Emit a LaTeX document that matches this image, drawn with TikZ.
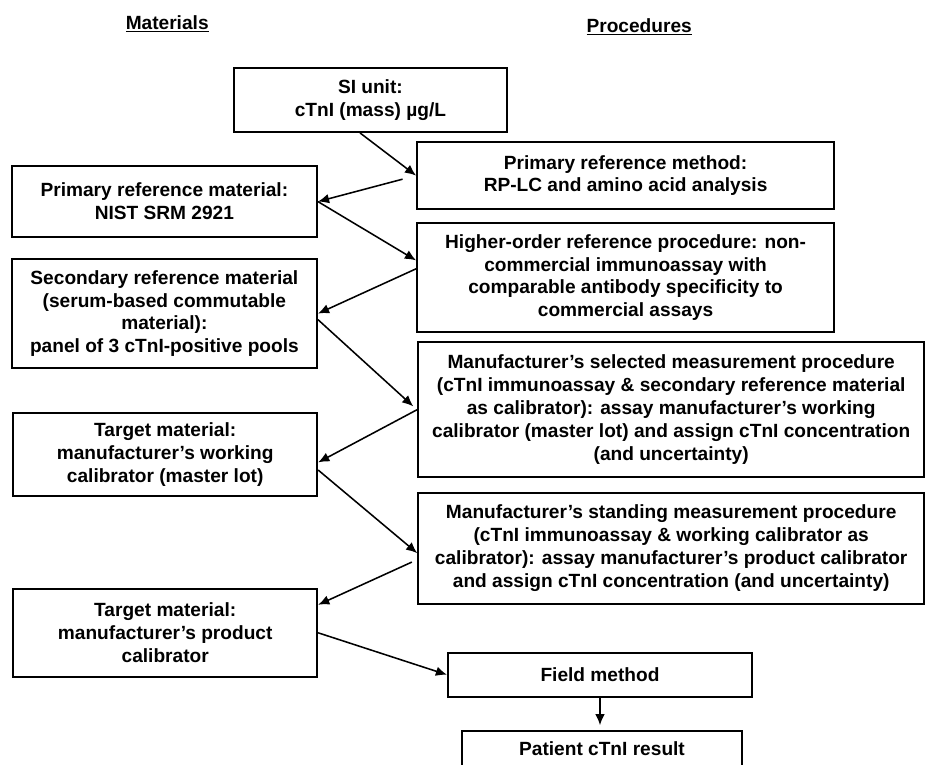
\documentclass[tikz,border=0pt]{standalone}
\usepackage{fontspec}
\setmainfont{Liberation Sans}
\usetikzlibrary{arrows.meta}

\begin{document}
\begin{tikzpicture}[
    box/.style={draw, line width=1.3pt, align=center, inner sep=2pt,
        font=\fontsize{13.6}{16.3}\selectfont\bfseries},
    arr/.style={line width=1.1pt, -{Latex[length=2.8mm,width=2.4mm]}},
    head/.style={font=\fontsize{13.6}{16}\selectfont\bfseries}
]
        \useasboundingbox (0,0) rectangle (23.15,19.1);
        \node[head] (mat) at (4.18,18.5) {\underline{Materials}};
        \node[head] (proc) at (15.98,18.43) {\underline{Procedures}};

        \node[box, minimum width=6.83cm, minimum height=1.6cm] (si) at (9.26,16.6)
            {SI unit:\\cTnI (mass) µg/L};
        \node[box, minimum width=10.43cm, minimum height=1.68cm] (prmeth) at (15.64,14.71)
            {Primary reference method:\\RP-LC and amino acid analysis};
        \node[box, minimum width=7.63cm, minimum height=1.78cm] (prmat) at (4.11,14.06)
            {Primary reference material:\\NIST SRM 2921};
        \node[box, minimum width=10.43cm, minimum height=2.73cm] (hiord) at (15.64,12.16)
            {Higher-order reference procedure: non-\\commercial immunoassay with\\comparable antibody specificity to\\commercial assays};
        \node[box, minimum width=7.63cm, minimum height=2.73cm] (secmat) at (4.11,11.26)
            {Secondary reference material\\(serum-based commutable\\material):\\panel of 3 cTnI-positive pools};
        \node[box, minimum width=12.65cm, minimum height=3.38cm] (selproc) at (16.78,8.86)
            {Manufacturer’s selected measurement procedure\\(cTnI immunoassay \& secondary reference material\\as calibrator): assay manufacturer’s working\\calibrator (master lot) and assign cTnI concentration\\(and uncertainty)};
        \node[box, minimum width=7.6cm, minimum height=2.08cm] (workcal) at (4.13,7.74)
            {Target material:\\manufacturer’s working\\calibrator (master lot)};
        \node[box, minimum width=12.65cm, minimum height=2.78cm] (stdproc) at (16.78,5.39)
            {Manufacturer’s standing measurement procedure\\(cTnI immunoassay \& working calibrator as\\calibrator): assay manufacturer’s product calibrator\\and assign cTnI concentration (and uncertainty)};
        \node[box, minimum width=7.6cm, minimum height=2.2cm] (prodcal) at (4.13,3.28)
            {Target material:\\manufacturer’s product\\calibrator};
        \node[box, minimum width=7.6cm, minimum height=1.1cm] (field) at (15.0,2.23)
            {Field method};
        \node[box, minimum width=7.0cm, minimum height=0.9cm] (patient) at (15.05,0.375)
            {Patient cTnI result};

        \draw[arr] ([xshift=-0.26cm]si.south) -- (prmeth.west);
        \draw[arr, shorten <=0.35cm] (prmeth.west) -- (prmat.east);
        \draw[arr] (prmat.east) -- ([yshift=0.43cm]hiord.west);
        \draw[arr] ([yshift=0.22cm]hiord.west) -- (secmat.east);
        \draw[arr] ([yshift=-0.15cm]secmat.east) -- ([yshift=0.08cm,xshift=-0.1cm]selproc.west);
        \draw[arr] (selproc.west) -- ([yshift=-0.2cm]workcal.east);
        \draw[arr] ([yshift=-0.39cm]workcal.east) -- ([yshift=-0.12cm]stdproc.west);
        \draw[arr, shorten <=0.15cm] ([yshift=-0.28cm]stdproc.west) -- ([yshift=0.7cm]prodcal.east);
        \draw[arr] (prodcal.east) -- (field.west);
        \draw[arr, shorten >=0.12cm] (field.south) -- (field.south |- patient.north);
\end{tikzpicture}
\end{document}
